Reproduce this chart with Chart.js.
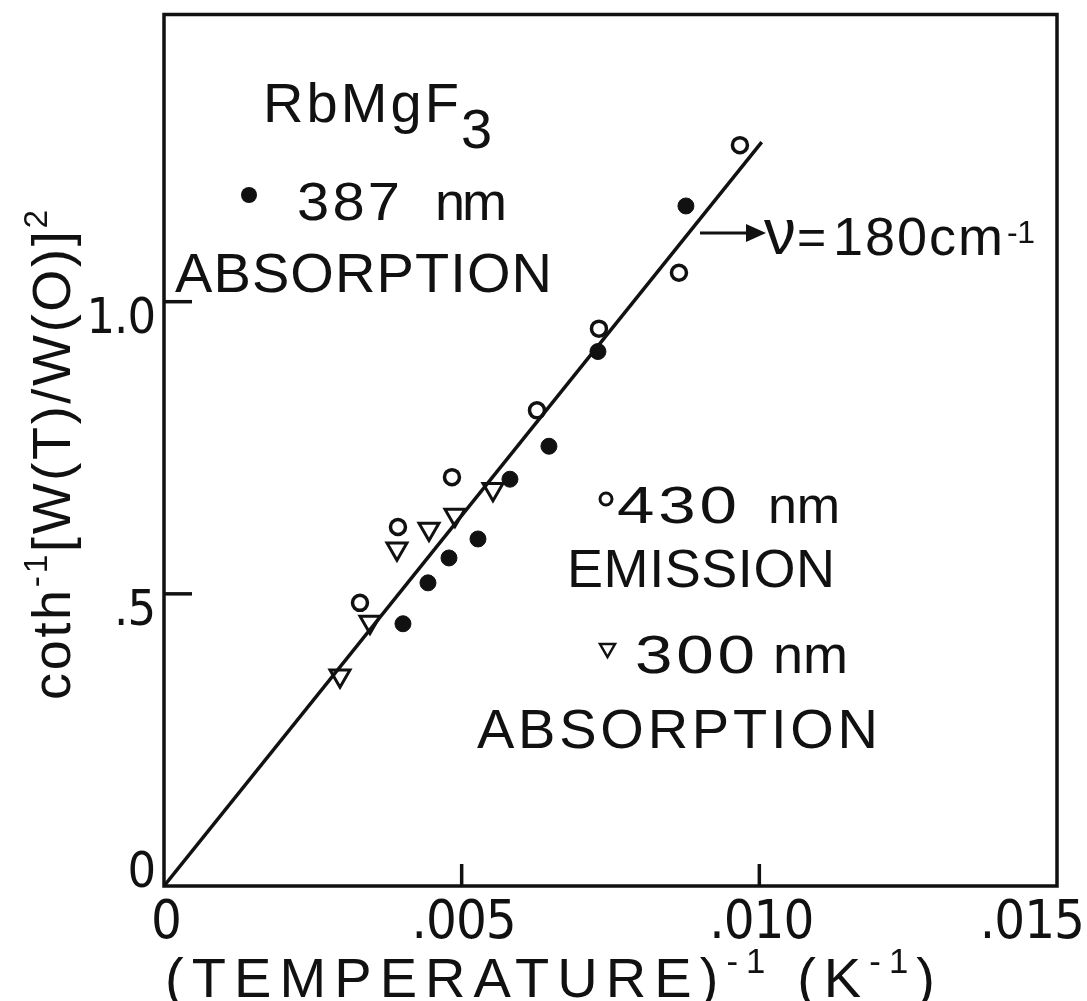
<!DOCTYPE html>
<html><head><meta charset="utf-8">
<script src="https://cdn.jsdelivr.net/npm/chart.js@4.4.0/dist/chart.umd.min.js"></script>
<style>html,body{margin:0;padding:0;background:#fff}#wrap{width:1087px;height:1001px;position:relative}</style>
</head><body><div id="wrap"><canvas id="c"></canvas></div>
<script>
// ---- data ----
const absorption387X = [0.006466, 0.008767, 0.007289, 0.005811, 0.005274, 0.004787, 0.004434, 0.004014];
const absorption387Y = [0.7526, 1.1638, 0.9147, 0.6962, 0.5939, 0.5614, 0.5188, 0.4488];
const emission430X = [0.009674, 0.008650, 0.007306, 0.006265, 0.004837, 0.003930, 0.003292];
const emission430Y = [1.2679, 1.0495, 0.9539, 0.8140, 0.6997, 0.6143, 0.4846];
const absorption300X = [0.002956, 0.003460, 0.003913, 0.004451, 0.004887, 0.005526];
const absorption300Y = [0.3600, 0.4520, 0.5770, 0.6110, 0.6350, 0.6790];
const fitLineX = [0, 0.01004];
const fitLineY = [0, 1.273];
const xTickValues = [0, 0.005, 0.010, 0.015];
const xTickLabels = ['0', '.005', '.010', '.015'];
const yTickValues = [0, 0.5, 1.0];
const yTickLabels = ['0', '.5', '1.0'];
const xRange = [0, 0.015];
const yRange = [0, 1.4915];
const titleText = ['RbMgF', '3'];
const legendTexts = ['387 nm', 'ABSORPTION', '430 nm', 'EMISSION', '300 nm', 'ABSORPTION'];
const freqText = ['\u03BD', '=', '180cm', '-1'];
const xTitle = [{t:'(TEMPERATURE)'}, {t:'-1', sup:true}, {t:' (K'}, {t:'-1', sup:true}, {t:')'}];
const yTitle = [{t:'coth'}, {t:'-1', sup:true}, {t:'[W(T)/W(O)]'}, {t:'2', sup:true}];

const pts = (xs, ys) => xs.map((x, i) => ({x, y: ys[i]}));
const FONT = '"Liberation Sans", Arial, sans-serif';
const NARROW = '"Liberation Sans Narrow", "DejaVu Sans Condensed", "Liberation Sans", sans-serif';
const INK = '#111';

function fitText(ctx, text, left, base, width, size) {
  ctx.font = size + 'px ' + FONT;
  ctx.letterSpacing = '0px';
  const w = ctx.measureText(text).width;
  const n = [...text].length;
  const ls = n > 1 ? (width - w) / (n - 1) : 0;
  ctx.letterSpacing = ls + 'px';
  ctx.textAlign = 'left';
  ctx.fillText(text, left, base);
  ctx.letterSpacing = '0px';
}
// wide hand-lettered digits: stretch horizontally with a small fixed gap
function fitWide(ctx, text, left, base, width, size) {
  ctx.font = size + 'px ' + FONT;
  ctx.letterSpacing = '3px';
  const w = ctx.measureText(text).width - 3;
  ctx.save();
  ctx.translate(left, base);
  ctx.scale(width / w, 1);
  ctx.textAlign = 'left';
  ctx.fillText(text, 0, 0);
  ctx.restore();
  ctx.letterSpacing = '0px';
}
function numUnit(ctx, text, numLeft, numW, unitLeft, unitW, base, size) {
  const [num, unit] = text.split(' ');
  fitWide(ctx, num, numLeft, base, numW, size);
  fitText(ctx, unit, unitLeft, base, unitW, size);
}
function richText(ctx, segs, left, base, width, size) {
  const supSize = size * 0.62;
  let natural = 0, nch = 0;
  segs.forEach(s => {
    ctx.font = (s.sup ? supSize : size) + 'px ' + FONT;
    ctx.letterSpacing = '0px';
    s.w = ctx.measureText(s.t).width;
    natural += s.w; nch += [...s.t].length;
  });
  const ls = (width - natural) / Math.max(1, nch - 1);
  let x = left;
  ctx.textAlign = 'left';
  segs.forEach(s => {
    ctx.font = (s.sup ? supSize : size) + 'px ' + FONT;
    ctx.letterSpacing = ls + 'px';
    ctx.fillText(s.t, x, s.sup ? base - size * 0.42 : base);
    x += s.w + ls * [...s.t].length;
  });
  ctx.letterSpacing = '0px';
}

const decor = {
  id: 'decor',
  afterDraw(chart) {
    const ctx = chart.ctx, a = chart.chartArea;
    const xs = chart.scales.x, ys = chart.scales.y;
    ctx.save();
    ctx.strokeStyle = INK; ctx.fillStyle = INK; ctx.lineWidth = 3.5;
    ctx.strokeRect(a.left, a.top, a.right - a.left, a.bottom - a.top);
    // inward ticks
    xTickValues.forEach(v => {
      if (v === xRange[0] || v === xRange[1]) return;
      const px = xs.getPixelForValue(v);
      ctx.beginPath(); ctx.moveTo(px, a.bottom); ctx.lineTo(px, a.bottom - 22); ctx.stroke();
    });
    yTickValues.forEach(v => {
      if (v === yRange[0]) return;
      const py = ys.getPixelForValue(v);
      ctx.beginPath(); ctx.moveTo(a.left, py); ctx.lineTo(a.left + 28, py); ctx.stroke();
    });
    // tick labels
    ctx.textBaseline = 'alphabetic';
    ctx.font = '54px ' + NARROW;
    ctx.letterSpacing = '-1px';
    ctx.textAlign = 'center';
    xTickValues.forEach((v, i) => {
      const w = ctx.measureText(xTickLabels[i]).width;
      const cx = Math.min(xs.getPixelForValue(v) + 2, chart.width - 3 - w / 2);
      ctx.fillText(xTickLabels[i], cx, a.bottom + 52);
    });
    ctx.font = '50px ' + NARROW;
    ctx.textAlign = 'right';
    yTickValues.forEach((v, i) => {
      ctx.fillText(yTickLabels[i], a.left - 9, ys.getPixelForValue(v) + 31 - (v === 0 ? 30 : 0));
    });
    ctx.letterSpacing = '0px';
    // axis titles
    richText(ctx, xTitle, 165, 997, 770, 56);
    ctx.save();
    ctx.translate(70, 700); ctx.rotate(-Math.PI / 2);
    richText(ctx, yTitle, 0, 0, 490, 54);
    ctx.restore();
    // annotations
    fitText(ctx, titleText[0], 263, 122, 196, 56);
    fitText(ctx, titleText[1], 461, 148, 30, 56);
    ctx.beginPath(); ctx.arc(249, 195, 8, 0, Math.PI * 2); ctx.fill();
    numUnit(ctx, legendTexts[0], 297, 103, 435, 72, 220, 54);
    fitText(ctx, legendTexts[1], 175, 292, 377, 56);
    // 430 nm emission legend
    ctx.lineWidth = 3;
    ctx.beginPath(); ctx.arc(606, 499, 6, 0, Math.PI * 2); ctx.stroke();
    numUnit(ctx, legendTexts[2], 617, 120, 768, 72, 523, 52);
    fitText(ctx, legendTexts[3], 567, 587, 268, 54);
    // 300 nm absorption legend
    ctx.lineWidth = 2.5;
    ctx.beginPath(); ctx.moveTo(600, 644); ctx.lineTo(615, 644); ctx.lineTo(607.5, 657); ctx.closePath(); ctx.stroke();
    numUnit(ctx, legendTexts[4], 635, 120, 773, 75, 673, 54);
    fitText(ctx, legendTexts[5], 477, 748, 401, 56);
    // frequency annotation with arrow
    ctx.lineWidth = 3;
    ctx.beginPath(); ctx.moveTo(700, 233); ctx.lineTo(748, 233); ctx.stroke();
    ctx.beginPath(); ctx.moveTo(766, 233); ctx.lineTo(746, 224); ctx.lineTo(746, 242); ctx.closePath(); ctx.fill();
    ctx.font = '64px ' + FONT; ctx.textAlign = 'left';
    ctx.fillText(freqText[0], 764, 254);
    ctx.font = '50px ' + FONT;
    ctx.fillText(freqText[1], 797, 254);
    fitText(ctx, freqText[2], 833, 255, 170, 54);
    fitText(ctx, freqText[3], 1007, 243, 28, 32);
    ctx.restore();
  }
};

new Chart(document.getElementById('c'), {
  type: 'scatter',
  data: {
    datasets: [
      { label: 'fit', data: pts(fitLineX, fitLineY), showLine: true, borderColor: INK, borderWidth: 3.5,
        pointRadius: 0, fill: false },
      { label: '387 nm ABSORPTION', data: pts(absorption387X, absorption387Y), pointStyle: 'circle',
        pointRadius: 8, backgroundColor: INK, borderColor: INK, borderWidth: 1 },
      { label: '430 nm EMISSION', data: pts(emission430X, emission430Y), pointStyle: 'circle',
        pointRadius: 7.5, backgroundColor: '#fff', borderColor: INK, borderWidth: 3.5 },
      { label: '300 nm ABSORPTION', data: pts(absorption300X, absorption300Y), pointStyle: 'triangle',
        pointRotation: 180, pointRadius: 11.5, backgroundColor: '#fff', borderColor: INK, borderWidth: 3 }
    ]
  },
  options: {
    responsive: true, maintainAspectRatio: false, animation: false, devicePixelRatio: 1,
    layout: { padding: { left: 164, top: 12, right: 30, bottom: 115 } },
    plugins: { legend: { display: false }, tooltip: { enabled: false } },
    scales: {
      x: { type: 'linear', min: xRange[0], max: xRange[1], display: false },
      y: { type: 'linear', min: yRange[0], max: yRange[1], display: false }
    }
  },
  plugins: [decor]
});
</script></body></html>
